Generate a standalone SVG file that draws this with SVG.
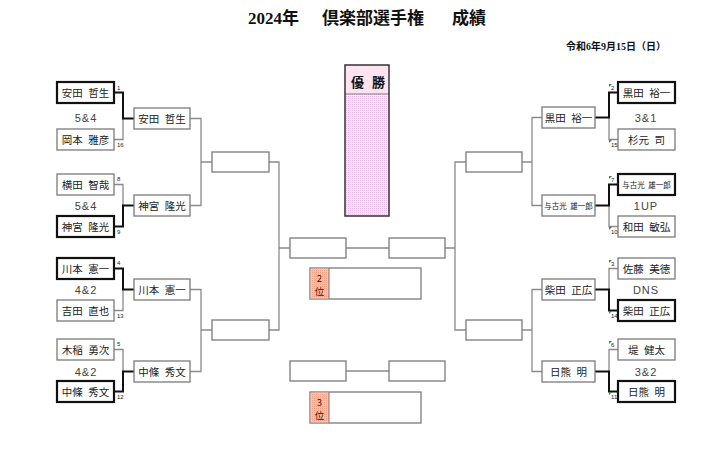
<svg xmlns="http://www.w3.org/2000/svg" width="727" height="453" viewBox="0 0 727 453">
<style>
.box{fill:#fff;stroke:#7a7a7a;stroke-width:1.3}
.win{fill:#fff;stroke:#111;stroke-width:2.2}
.ln{fill:none;stroke:#8a8a8a;stroke-width:1.3}
.tk{fill:none;stroke:#111;stroke-width:2}
.nm{font-family:"Noto Sans CJK JP",sans-serif;font-size:10.5px;fill:#222;text-anchor:middle;word-spacing:3px}
.sm{font-size:7.5px;word-spacing:2px}
.sc{font-family:"Liberation Sans","Noto Sans CJK JP",sans-serif;font-size:11px;fill:#444;text-anchor:middle;letter-spacing:1px}
.no{font-family:"Liberation Sans",sans-serif;font-size:6px;fill:#222}
.gm{fill:#2f8f2f}
.ttl{font-family:"Liberation Serif","Noto Sans CJK JP",serif;font-weight:bold;font-size:17px;fill:#111}
.dt{font-family:"Liberation Serif","Noto Sans CJK JP",serif;font-weight:bold;font-size:10px;fill:#111}
.rk{font-family:"Noto Sans CJK JP",sans-serif;font-size:9.5px;fill:#222;text-anchor:middle}
</style>
<defs>
<pattern id="pk" width="2" height="2" patternUnits="userSpaceOnUse">
<rect width="2" height="2" fill="#fdf0fc"/>
<rect width="1" height="1" fill="#f0b4ec"/>
</pattern>
<pattern id="sal" width="2" height="2" patternUnits="userSpaceOnUse">
<rect width="2" height="2" fill="#ffc2ad"/>
<rect width="1" height="1" fill="#f59c80"/>
</pattern>
</defs>

<text class="ttl" y="24"><tspan x="248">2024年</tspan><tspan x="322">倶楽部選手権</tspan><tspan x="452">成績</tspan></text>
<text class="dt" x="566" y="50">令和6年9月15日（日）</text>

<g id="connectors">
<path class="ln" d="M114,139.5H123V118.5M114,184.5H123V205.5M114,310.5H123V289.5M114,349.5H123V371.5"/>
<path class="ln" d="M190,118.5H201V205.5H190M201,162H212M190,289.5H201V371.5H190M201,330H212"/>
<path class="ln" d="M269,162H279V330H269M279,248H290M346,248H389M346,371H389"/>
<path class="ln" d="M445,248H455M466,162H455V330H466"/>
<path class="ln" d="M522,162H532M542,117.5H532V205.5H542M522,330H532M542,289.5H532V371.5H542"/>
<path class="ln" d="M609,117.5V139.5H618M609,205.5V226.5H618M609,289.5V268.5H618M609,371.5V349.5H618"/>
<path class="tk" d="M114,92.5H123V118.5H134M114,226.5H123V205.5H134M114,268.5H123V289.5H134M114,391.5H123V371.5H134"/>
<path class="tk" d="M595,117.5H609V92.5H618M595,205.5H609V184.5H618M595,289.5H609V310.5H618M595,371.5H609V391.5H618"/>
</g>

<g id="L1"><rect class="win" x="57" y="82" width="57" height="21"/><text class="nm" x="85.5" y="96.5">安田 哲生</text><text class="no" x="117" y="90">1</text></g>
<g id="L16"><rect class="box" x="57" y="129" width="57" height="21"/><text class="nm" x="85.5" y="143.5">岡本 雅彦</text><text class="no" x="117" y="147">16</text></g>
<g id="L8"><rect class="box" x="57" y="174" width="57" height="21"/><text class="nm" x="85.5" y="188.5">横田 智哉</text><text class="no" x="117" y="181">8</text></g>
<g id="L9"><rect class="win" x="57" y="216" width="57" height="21"/><text class="nm" x="85.5" y="230.5">神宮 隆光</text><text class="no" x="117" y="234">9</text></g>
<g id="L4"><rect class="win" x="57" y="258" width="57" height="21"/><text class="nm" x="85.5" y="272.5">川本 憲一</text><text class="no" x="117" y="265">4</text></g>
<g id="L13"><rect class="box" x="57" y="300" width="57" height="21"/><text class="nm" x="85.5" y="314.5">吉田 直也</text><text class="no" x="117" y="318">13</text></g>
<g id="L5"><rect class="box" x="57" y="339" width="57" height="21"/><text class="nm" x="85.5" y="353.5">木稲 勇次</text><text class="no" x="117" y="346">5</text></g>
<g id="L12"><rect class="win" x="57" y="381" width="57" height="21"/><text class="nm" x="85.5" y="395.5">中條 秀文</text><text class="no" x="117" y="399">12</text></g>

<g id="Lscores"><text class="sc" x="86" y="122">5&amp;4</text><text class="sc" x="86" y="210">5&amp;4</text><text class="sc" x="86" y="294">4&amp;2</text><text class="sc" x="86" y="376">4&amp;2</text></g>

<g id="L2a"><rect class="box" x="134" y="108" width="56" height="21"/><text class="nm" x="162" y="122.5">安田 哲生</text></g>
<g id="L2b"><rect class="box" x="134" y="195" width="56" height="21"/><text class="nm" x="162" y="209.5">神宮 隆光</text></g>
<g id="L2c"><rect class="box" x="134" y="279" width="56" height="21"/><text class="nm" x="162" y="293.5">川本 憲一</text></g>
<g id="L2d"><rect class="box" x="134" y="361" width="56" height="21"/><text class="nm" x="162" y="375.5">中條 秀文</text></g>

<g id="L3a"><rect class="box" x="212" y="152" width="57" height="20"/></g>
<g id="L3b"><rect class="box" x="212" y="320" width="57" height="20"/></g>
<g id="SFL"><rect class="box" x="290" y="238" width="56" height="20"/></g>
<g id="SFR"><rect class="box" x="389" y="238" width="56" height="20"/></g>
<g id="T3L"><rect class="box" x="290" y="361" width="56" height="20"/></g>
<g id="T3R"><rect class="box" x="389" y="361" width="56" height="20"/></g>
<g id="R3a"><rect class="box" x="466" y="152" width="56" height="20"/></g>
<g id="R3b"><rect class="box" x="466" y="320" width="56" height="20"/></g>

<g id="champion">
<rect x="345" y="94" width="44" height="122" fill="url(#pk)"/>
<rect x="345" y="65" width="44" height="29" fill="#ffe3f2"/>
<line x1="345" y1="94" x2="389" y2="94" stroke="#7a7a7a" stroke-width="1"/>
<rect x="345" y="65" width="44" height="151" fill="none" stroke="#333" stroke-width="1.5"/>
<text x="351" y="87" font-family="Noto Sans CJK JP,sans-serif" font-weight="bold" font-size="13" fill="#111">優<tspan dx="8">勝</tspan></text>
</g>

<g id="second">
<rect class="box" x="310" y="268" width="111" height="31"/>
<rect x="310.6" y="268.6" width="18.4" height="29.8" fill="url(#sal)"/>
<line x1="329" y1="268" x2="329" y2="299" stroke="#7a7a7a" stroke-width="1"/>
<text class="rk" x="319.5" y="281.5">2</text><text class="rk" x="319.5" y="295">位</text>
</g>
<g id="third">
<rect class="box" x="310" y="392" width="111" height="31"/>
<rect x="310.6" y="392.6" width="18.4" height="29.8" fill="url(#sal)"/>
<line x1="329" y1="392" x2="329" y2="423" stroke="#7a7a7a" stroke-width="1"/>
<text class="rk" x="319.5" y="405.5">3</text><text class="rk" x="319.5" y="419">位</text>
</g>

<g id="R2a"><rect class="box" x="542" y="107" width="53" height="21"/><text class="nm" x="568.5" y="121.5">黒田 裕一</text></g>
<g id="R2b"><rect class="box" x="542" y="195" width="53" height="21"/><text class="nm sm" x="568.5" y="208.5">与古光 雄一郎</text></g>
<g id="R2c"><rect class="box" x="542" y="279" width="53" height="21"/><text class="nm" x="568.5" y="293.5">柴田 正広</text></g>
<g id="R2d"><rect class="box" x="542" y="361" width="53" height="21"/><text class="nm" x="568.5" y="375.5">日熊 明</text></g>

<g id="R2"><rect class="win" x="618" y="82" width="57" height="21"/><text class="nm" x="646.5" y="96.5">黒田 裕一</text><polygon class="gm" points="609,84 612,84 609,87"/><text class="no" x="611" y="90">2</text></g>
<g id="R15"><rect class="box" x="618" y="129" width="57" height="21"/><text class="nm" x="646.5" y="143.5">杉元 司</text><polygon class="gm" points="609,140 612,140 609,143"/><text class="no" x="611" y="147">15</text></g>
<g id="R7"><rect class="win" x="618" y="174" width="57" height="21"/><text class="nm sm" x="646.5" y="187.5">与古光 雄一郎</text><polygon class="gm" points="609,176 612,176 609,179"/><text class="no" x="611" y="182">7</text></g>
<g id="R10"><rect class="box" x="618" y="216" width="57" height="21"/><text class="nm" x="646.5" y="230.5">和田 敏弘</text><polygon class="gm" points="609,227 612,227 609,230"/><text class="no" x="611" y="234">10</text></g>
<g id="R3"><rect class="box" x="618" y="258" width="57" height="21"/><text class="nm" x="646.5" y="272.5">佐藤 美徳</text><polygon class="gm" points="609,260 612,260 609,263"/><text class="no" x="611" y="266">3</text></g>
<g id="R14"><rect class="win" x="618" y="300" width="57" height="21"/><text class="nm" x="646.5" y="314.5">柴田 正広</text><polygon class="gm" points="609,311 612,311 609,314"/><text class="no" x="611" y="318">14</text></g>
<g id="R6"><rect class="box" x="618" y="339" width="57" height="21"/><text class="nm" x="646.5" y="353.5">堤 健太</text><polygon class="gm" points="609,341 612,341 609,344"/><text class="no" x="611" y="347">6</text></g>
<g id="R11"><rect class="win" x="618" y="381" width="57" height="21"/><text class="nm" x="646.5" y="395.5">日熊 明</text><polygon class="gm" points="609,392 612,392 609,395"/><text class="no" x="611" y="399">11</text></g>

<g id="Rscores"><text class="sc" x="646" y="122">3&amp;1</text><text class="sc" x="646" y="210">1UP</text><text class="sc" x="646" y="294">DNS</text><text class="sc" x="646" y="376">3&amp;2</text></g>
</svg>
